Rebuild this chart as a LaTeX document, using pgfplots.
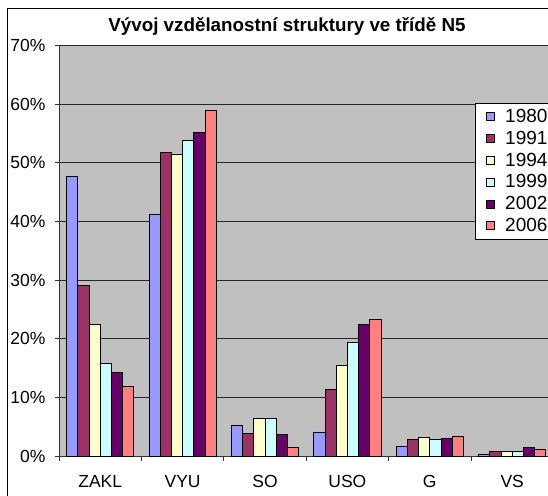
\documentclass[border=0pt]{standalone}
\usepackage{fontspec}
\setmainfont{Liberation Sans}
\usepackage{pgfplots}
\pgfplotsset{compat=1.18}
\definecolor{bgc}{HTML}{C0C0C0}
\definecolor{c1}{HTML}{9999FF}
\definecolor{c2}{HTML}{993366}
\definecolor{c3}{HTML}{FFFFCC}
\definecolor{c4}{HTML}{CCFFFF}
\definecolor{c5}{HTML}{660066}
\definecolor{c6}{HTML}{FF8080}
\begin{document}
\begin{tikzpicture}
\draw[line width=0.8pt] (7.5pt,-30pt) rectangle (700pt,486.5pt);
\node[font=\bfseries\fontsize{18.8}{22}\selectfont] at (287pt,469pt) {Vývoj vzdělanostní struktury ve třídě N5};
\begin{axis}[
  at={(59pt,39pt)}, anchor=south west,
  scale only axis, width=494.4pt, height=410.5pt,
  axis lines*=left,
  axis line style={black!80, line width=1pt},
  axis background/.style={fill=bgc},
  ybar=0pt, bar width=11.2pt,
  xmin=-0.5, xmax=5.5, ymin=0, ymax=70,
  xtick={0,...,5},
  xticklabels={ZAKL,VYU,SO,USO,G,VS},
  minor xtick={-0.5,0.5,...,5.5},
  major x tick style={draw=none},
  minor x tick style={black!80, line width=0.8pt},
  minor tick length=5pt,
  ytick={0,10,...,70},
  y tick style={black!80, line width=0.8pt},
  major tick length=4pt,
  tick align=outside,
  ymajorgrids,
  grid style={black!85, line width=0.8pt},
  yticklabel={\pgfmathprintnumber{\tick}\%},
  /pgf/number format/assume math mode=true,
  tick label style={font=\fontsize{17.5}{20}\selectfont},
  xticklabel style={yshift=-12pt},
  yticklabel style={xshift=-6pt},
  legend cell align=left,
  legend style={at={(0.8414,0.860)}, anchor=north west, draw=black, fill=white,
    line width=0.8pt, font=\fontsize{19}{21}\selectfont, row sep=3pt,
    inner xsep=0pt, inner ysep=4pt},
]
\addplot[fill=c1, draw=black, line width=0.9pt, bar shift=-28pt, forget plot] coordinates {(0,47.7) (1,41.2) (2,5.2) (3,4.1) (4,1.65) (5,0.3)};
\addplot[fill=c2, draw=black, line width=0.9pt, bar shift=-16.8pt, forget plot] coordinates {(0,29.1) (1,51.8) (2,3.8) (3,11.4) (4,2.8) (5,0.85)};
\addplot[fill=c3, draw=black, line width=0.9pt, bar shift=-5.6pt, forget plot] coordinates {(0,22.4) (1,51.5) (2,6.4) (3,15.4) (4,3.1) (5,0.8)};
\addplot[fill=c4, draw=black, line width=0.9pt, bar shift=5.6pt, forget plot] coordinates {(0,15.7) (1,53.8) (2,6.4) (3,19.3) (4,2.8) (5,0.8)};
\addplot[fill=c5, draw=black, line width=0.9pt, bar shift=16.8pt, forget plot] coordinates {(0,14.3) (1,55.2) (2,3.6) (3,22.4) (4,3.0) (5,1.4)};
\addplot[fill=c6, draw=black, line width=0.9pt, bar shift=28pt, forget plot] coordinates {(0,11.8) (1,58.9) (2,1.4) (3,23.2) (4,3.35) (5,1.1)};
\addlegendimage{legend image code/.code={\path (0pt,0pt) (27pt,0pt);\draw[fill=c1,draw=black,line width=0.6pt] (11pt,-4pt) rectangle (19pt,4pt);}}
\addlegendentry{1980}
\addlegendimage{legend image code/.code={\path (0pt,0pt) (27pt,0pt);\draw[fill=c2,draw=black,line width=0.6pt] (11pt,-4pt) rectangle (19pt,4pt);}}
\addlegendentry{1991}
\addlegendimage{legend image code/.code={\path (0pt,0pt) (27pt,0pt);\draw[fill=c3,draw=black,line width=0.6pt] (11pt,-4pt) rectangle (19pt,4pt);}}
\addlegendentry{1994}
\addlegendimage{legend image code/.code={\path (0pt,0pt) (27pt,0pt);\draw[fill=c4,draw=black,line width=0.6pt] (11pt,-4pt) rectangle (19pt,4pt);}}
\addlegendentry{1999}
\addlegendimage{legend image code/.code={\path (0pt,0pt) (27pt,0pt);\draw[fill=c5,draw=black,line width=0.6pt] (11pt,-4pt) rectangle (19pt,4pt);}}
\addlegendentry{2002}
\addlegendimage{legend image code/.code={\path (0pt,0pt) (27pt,0pt);\draw[fill=c6,draw=black,line width=0.6pt] (11pt,-4pt) rectangle (19pt,4pt);}}
\addlegendentry{2006}
\end{axis}
\pgfresetboundingbox
\useasboundingbox (0,0) rectangle (548pt,495pt);
\end{tikzpicture}
\end{document}
